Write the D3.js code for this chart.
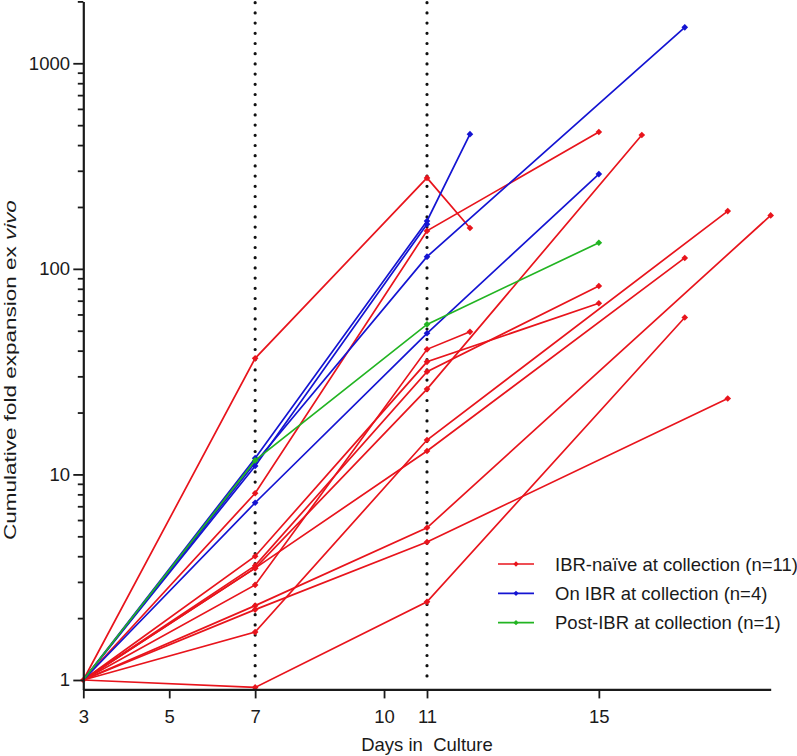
<!DOCTYPE html>
<html>
<head>
<meta charset="utf-8">
<script src="https://cdn.jsdelivr.net/npm/d3@7"></script>
<style>
  html, body { margin: 0; padding: 0; background: #fff; }
  svg { display: block; }
  text { font-family: "Liberation Sans", Arial, sans-serif; fill: #1a1a1a; }
</style>
</head>
<body>
<svg id="chart" width="797" height="756"></svg>
<script>
// ---------------- data ----------------
const groupNames = ["IBR-naïve at collection (n=11)", "On IBR at collection (n=4)", "Post-IBR at collection (n=1)"];
const groupColors = ["#e8141c", "#1414d2", "#22b422"];

// IBR-naive patients (red)
const naiveDays = [
  [3, 7, 11, 12],
  [3, 7, 11, 15],
  [3, 7, 11, 12],
  [3, 7, 11, 15],
  [3, 7, 11, 15],
  [3, 7, 11, 16],
  [3, 7, 11, 18],
  [3, 7, 11, 17],
  [3, 7, 11, 19],
  [3, 7, 11, 18],
  [3, 7, 11, 17]
];
const naiveValues = [
  [1, 36.7, 277, 158],
  [1, 8.1, 153, 463],
  [1, 2.9, 40.6, 49.4],
  [1, 4.0, 35.3, 68],
  [1, 3.6, 31.6, 82.5],
  [1, 3.5, 26.0, 448],
  [1, 1.71, 14.7, 191],
  [1, 3.5, 13.0, 113],
  [1, 2.3, 5.5, 182],
  [1, 2.2, 4.69, 23.4],
  [1, 0.92, 2.40, 58]
];

// On IBR patients (blue)
const onIbrDays = [
  [3, 7, 11, 12],
  [3, 7, 11, 17],
  [3, 7, 11],
  [3, 7, 11, 15]
];
const onIbrValues = [
  [1, 12.0, 171, 452],
  [1, 11.4, 114.6, 1496],
  [1, 11.0, 165],
  [1, 7.28, 48.6, 289]
];

// Post-IBR patient (green)
const postIbrDays = [[3, 7, 11, 15]];
const postIbrValues = [[1, 11.7, 53.7, 134]];

const xTicks = [3, 5, 7, 10, 11, 15];
const yMajorTicks = [1, 10, 100, 1000];
const dottedDays = [7, 11];
const xTitle = "Days in  Culture";

// ---------------- layout ----------------
const svg = d3.select("#chart");
const x = d3.scaleLinear().domain([3, 19]).range([83.3, 770.7]);
const y = d3.scaleLog().domain([0.9, 2000]).range([689.4, 1.4]);

const yMinorTicks = [];
[1, 10, 100, 1000].forEach(b => { for (let k = 2; k <= 9; k++) { const v = b * k; if (v <= 2000) yMinorTicks.push(v); } });

// dotted reference lines
svg.append("g").selectAll("line").data(dottedDays).join("line")
  .attr("x1", d => x(d)).attr("x2", d => x(d))
  .attr("y1", 2.7).attr("y2", 682)
  .attr("stroke", "#111").attr("stroke-width", 3.2)
  .attr("stroke-linecap", "round").attr("stroke-dasharray", "0,10.2");

// series
const series = [];
naiveDays.forEach((ds, i) => series.push({ g: 0, pts: ds.map((d, j) => [d, naiveValues[i][j]]) }));
onIbrDays.forEach((ds, i) => series.push({ g: 1, pts: ds.map((d, j) => [d, onIbrValues[i][j]]) }));
postIbrDays.forEach((ds, i) => series.push({ g: 2, pts: ds.map((d, j) => [d, postIbrValues[i][j]]) }));

const line = d3.line().x(d => x(d[0])).y(d => y(d[1]));
const marker = d3.symbol(d3.symbolSquare, 22);

const sg = svg.append("g").selectAll("g").data(series).join("g");
sg.append("path")
  .attr("d", d => line(d.pts))
  .attr("fill", "none")
  .attr("stroke", d => groupColors[d.g])
  .attr("stroke-width", 1.7);
sg.each(function (s) {
  d3.select(this).selectAll("path.m").data(s.pts.slice(1)).join("path")
    .attr("class", "m")
    .attr("d", marker)
    .attr("transform", d => `translate(${x(d[0])},${y(d[1])}) rotate(45)`)
    .attr("fill", groupColors[s.g]);
});
// common start point
svg.append("path").attr("d", marker)
  .attr("transform", `translate(${x(3)},${y(1)}) rotate(45)`)
  .attr("fill", groupColors[0]);

// ---------------- axes ----------------
const fontSize = 18.5;
const yAxisMajor = svg.append("g").attr("transform", `translate(${x(3)},0)`)
  .call(d3.axisLeft(y).tickValues(yMajorTicks).tickFormat(d3.format("d")).tickSize(10).tickSizeOuter(0).tickPadding(3.3));
const yAxisMinor = svg.append("g").attr("transform", `translate(${x(3)},0)`)
  .call(d3.axisLeft(y).tickValues(yMinorTicks).tickFormat("").tickSize(5.5).tickSizeOuter(0));
yAxisMinor.select(".domain").remove();

const xAxis = svg.append("g").attr("transform", `translate(0,${y(0.9)})`)
  .call(d3.axisBottom(x).tickValues(xTicks).tickFormat(d3.format("d")).tickSize(9).tickSizeOuter(0).tickPadding(11));

[yAxisMajor, yAxisMinor, xAxis].forEach(a => {
  a.selectAll(".domain").attr("stroke", "#1a1a1a").attr("stroke-width", 2.2);
  a.selectAll(".tick line").attr("stroke", "#1a1a1a").attr("stroke-width", 1.8);
  a.selectAll(".tick text").attr("font-size", fontSize).attr("fill", "#1a1a1a")
    .attr("font-family", "\"Liberation Sans\", Arial, sans-serif");
});

// x title
svg.append("text")
  .attr("x", x(11)).attr("y", 750.5)
  .attr("text-anchor", "middle")
  .attr("font-size", fontSize)
  .style("white-space", "pre")
  .text(xTitle);

// y title (rotated), stretched along its length to match
const yt = svg.append("text").attr("font-size", 16).attr("text-anchor", "middle");
yt.append("tspan").text("Cumulative fold expansion ex ");
yt.append("tspan").attr("font-style", "italic").text("vivo");
const natural = yt.node().getComputedTextLength();
const sx = 340 / natural;
yt.attr("transform", `translate(15.5,370) rotate(-90) scale(${sx},1)`);

// ---------------- legend ----------------
const legendY = [564, 593.3, 622.7];
const lg = svg.append("g").selectAll("g").data(groupNames).join("g")
  .attr("transform", (d, i) => `translate(0,${legendY[i]})`);
lg.append("line").attr("x1", 498).attr("x2", 534).attr("y1", 0).attr("y2", 0)
  .attr("stroke", (d, i) => groupColors[i]).attr("stroke-width", 1.7);
lg.append("path").attr("d", d3.symbol(d3.symbolSquare, 14))
  .attr("transform", "translate(516,0) rotate(45)")
  .attr("fill", (d, i) => groupColors[i]);
lg.append("text").attr("x", 555).attr("y", 6.6)
  .attr("font-size", fontSize)
  .text(d => d);
</script>
</body>
</html>
